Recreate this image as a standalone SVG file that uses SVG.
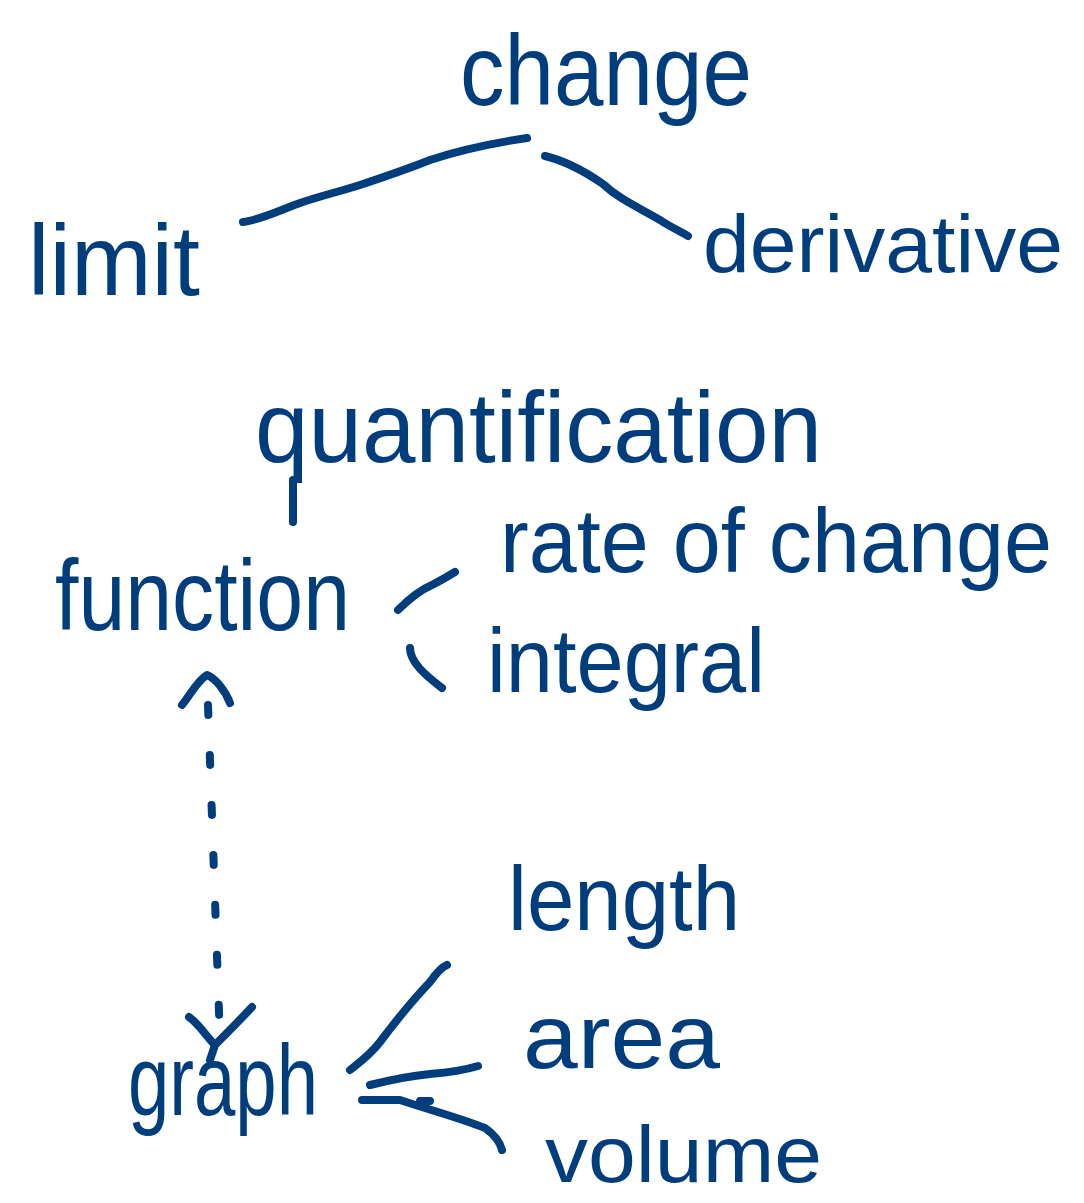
<svg xmlns="http://www.w3.org/2000/svg" width="1084" height="1203" viewBox="0 0 1084 1203">
<style>
.t{font-family:"Liberation Sans","DejaVu Sans",sans-serif;fill:#003d7d;}
.c{fill:none;stroke:#003d7d;stroke-width:8;stroke-linecap:round;stroke-linejoin:round;}
</style>
<rect width="1084" height="1203" fill="#ffffff"/>
<g id="connectors">
<path class="c" d="M243,222 C260,220 280,210 300,203 C320,196 345,190 360,185 C390,175 410,168 430,160 C460,150 500,142 527,138"/>
<path class="c" d="M545,156 C570,162 590,175 603,184 C620,200 640,208 660,220 C672,228 682,232 688,236"/>
<path class="c" d="M293,480 L293,522"/>
<path class="c" d="M398,610 C410,598 420,590 432,585 C442,580 450,575 455,572"/>
<path class="c" d="M410,648 C410,662 425,675 442,688"/>
<path class="c" d="M208,705 L220,1040" stroke-dasharray="10 40"/>
<path class="c" d="M182,705 C190,695 198,680 207,675 C215,678 225,690 230,703"/>
<path class="c" d="M189,1017 C200,1025 205,1035 215,1045 C225,1035 240,1020 252,1007 M215,1045 L210,1060"/>
<path class="c" d="M350,1070 C360,1062 370,1055 380,1042 C395,1022 410,1003 430,982 C437,972 442,967 447,965"/>
<path class="c" d="M370,1085 C390,1080 410,1076 430,1074 C455,1072 465,1070 478,1066"/>
<path class="c" d="M362,1100 L400,1100 C430,1110 460,1118 485,1128 C495,1135 500,1142 502,1150 M420,1101 L430,1101"/>
</g>
<g id="change"><text class="t" x="460" y="105" font-size="100" textLength="292" lengthAdjust="spacingAndGlyphs">change</text></g>
<g id="limit"><text class="t" x="28" y="295" font-size="100" textLength="172" lengthAdjust="spacingAndGlyphs">limit</text></g>
<g id="derivative"><text class="t" x="703" y="272" font-size="82" textLength="360" lengthAdjust="spacingAndGlyphs">derivative</text></g>
<g id="quantification"><text class="t" x="255" y="462" font-size="100" textLength="567" lengthAdjust="spacingAndGlyphs">quantification</text></g>
<g id="function"><text class="t" x="55" y="630" font-size="100" textLength="295" lengthAdjust="spacingAndGlyphs">function</text></g>
<g id="rate_of_change"><text class="t" x="500" y="572" font-size="90" textLength="552" lengthAdjust="spacingAndGlyphs">rate of change</text></g>
<g id="integral"><text class="t" x="487" y="692" font-size="90" textLength="278" lengthAdjust="spacingAndGlyphs">integral</text></g>
<g id="graph"><text class="t" x="128" y="1115" font-size="100" textLength="190" lengthAdjust="spacingAndGlyphs">graph</text></g>
<g id="length"><text class="t" x="508" y="930" font-size="90" textLength="232" lengthAdjust="spacingAndGlyphs">length</text></g>
<g id="area"><text class="t" x="523" y="1068" font-size="90" textLength="197" lengthAdjust="spacingAndGlyphs">area</text></g>
<g id="volume"><text class="t" x="545" y="1182" font-size="80" textLength="277" lengthAdjust="spacingAndGlyphs">volume</text></g>
</svg>
